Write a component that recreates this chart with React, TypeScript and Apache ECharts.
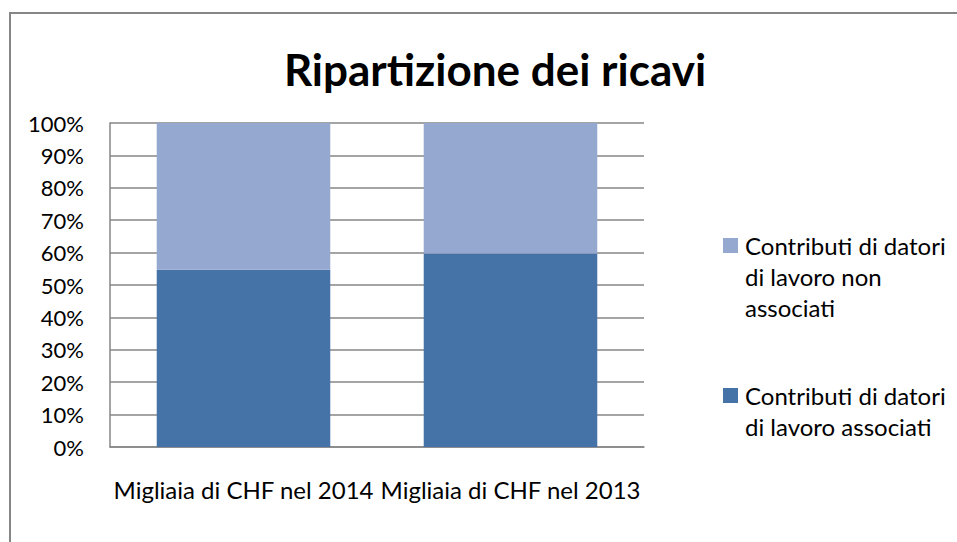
import React, { useEffect, useRef } from "react";
import * as echarts from "echarts";

const categories = ["Migliaia di CHF nel 2014", "Migliaia di CHF nel 2013"];
const seriesNames = [
  "Contributi di datori di lavoro associati",
  "Contributi di datori di lavoro non associati",
];
const legendLines = [
  "Contributi di datori\ndi lavoro associati",
  "Contributi di datori\ndi lavoro non\nassociati",
];
const associati = [54.7, 59.7];
const nonAssociati = [45.3, 40.3];
const titleText = "Ripartizione dei ricavi";

const FONT = "Lato, 'Open Sans', sans-serif";
const DARK = "#4572A7";
const LIGHT = "#95A8CF";
const GRID = "#868686";

export default function App() {
  const ref = useRef<HTMLDivElement>(null);
  useEffect(() => {
    if (!ref.current) return;
    const chart = echarts.init(ref.current, null, { renderer: "svg" });
    const legendText = (txt: string, y: number) => ({
      type: "text",
      x: 745,
      y,
      style: {
        text: txt,
        font: `24px ${FONT}`,
        fill: "#000",
        lineHeight: 31,
        verticalAlign: "top",
        align: "left",
      },
      silent: true,
    });
    chart.setOption({
      animation: false,
      backgroundColor: "#ffffff",
      textStyle: { fontFamily: FONT },
      title: {
        text: titleText,
        left: 490,
        textAlign: "center",
        top: 42,
        textStyle: { fontFamily: FONT, fontSize: 44, fontWeight: "bold", color: "#000" },
      },
      graphic: [
        {
          type: "rect",
          shape: { x: 10, y: 13, width: 1000, height: 600 },
          style: { fill: "none", stroke: GRID, lineWidth: 2 },
          silent: true,
          z: -1,
        },
        {
          type: "rect",
          shape: { x: 723, y: 238, width: 15, height: 15 },
          style: { fill: LIGHT },
          silent: true,
        },
        legendText(legendLines[1], 230),
        {
          type: "rect",
          shape: { x: 723, y: 388, width: 15, height: 15 },
          style: { fill: DARK },
          silent: true,
        },
        legendText(legendLines[0], 380),
      ],
      grid: { left: 110, right: 313, top: 123, bottom: 95, containLabel: false },
      xAxis: {
        type: "category",
        data: categories,
        axisLine: { show: true, lineStyle: { color: GRID, width: 1.5 } },
        axisTick: { show: false },
        axisLabel: { fontFamily: FONT, fontSize: 24, color: "#000", margin: 30, interval: 0 },
      },
      yAxis: {
        type: "value",
        min: 0,
        max: 100,
        interval: 10,
        axisLine: { show: true, lineStyle: { color: GRID, width: 1.5 } },
        axisTick: { show: false },
        axisLabel: { fontFamily: FONT, fontSize: 22, color: "#000", margin: 26, formatter: "{value}%" },
        splitLine: { show: true, lineStyle: { color: GRID, width: 1.5 } },
      },
      series: [
        {
          name: seriesNames[0],
          type: "bar",
          stack: "total",
          data: associati,
          barWidth: "65%",
          itemStyle: { color: DARK },
        },
        {
          name: seriesNames[1],
          type: "bar",
          stack: "total",
          data: nonAssociati,
          barWidth: "65%",
          itemStyle: { color: LIGHT },
        },
      ],
    });
    return () => chart.dispose();
  }, []);
  return (
    <div
      ref={ref}
      style={{ position: "fixed", left: 0, top: 0, width: 957, height: 542 }}
    />
  );
}
